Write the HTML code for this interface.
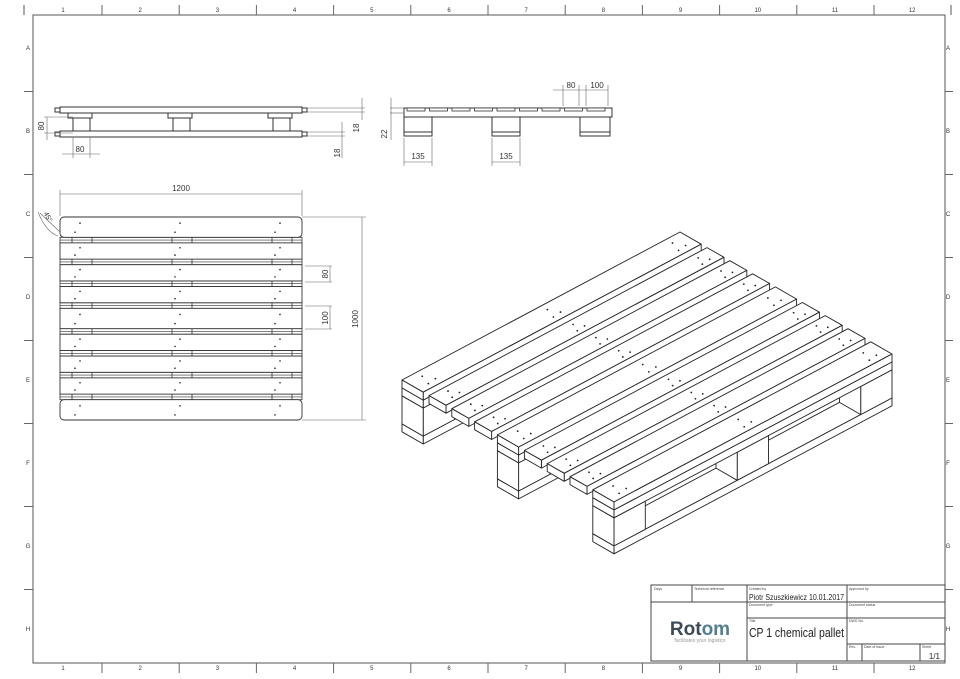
<!DOCTYPE html>
<html><head><meta charset="utf-8"><style>
html,body{margin:0;padding:0;background:#fff}
svg{display:block;font-family:"Liberation Sans",sans-serif}
</style></head><body>
<svg id="s" width="960" height="679" viewBox="0 0 960 679" xmlns="http://www.w3.org/2000/svg">
<g fill="none" stroke="#555" stroke-width="1">
<rect x="33" y="15" width="912" height="648"/>
<line x1="24" y1="5" x2="24" y2="15"/><line x1="951" y1="5" x2="951" y2="15"/>
</g>
<g id="frame" font-size="6" fill="#333" text-anchor="middle"></g>

<!-- side view 1 -->
<g fill="#fff" stroke="#333" stroke-width="1">
<rect x="60" y="107" width="242" height="6"/>
<rect x="55" y="108" width="5" height="4"/><rect x="302" y="108" width="5" height="4"/>
<rect x="68" y="113" width="24" height="5"/><rect x="168" y="113" width="24" height="5"/><rect x="268" y="113" width="24" height="5"/>
<rect x="73" y="118" width="17" height="13"/><rect x="173" y="118" width="17" height="13"/><rect x="273" y="118" width="17" height="13"/>
<rect x="60" y="131" width="242" height="6"/>
<rect x="55" y="132" width="5" height="4"/><rect x="302" y="132" width="5" height="4"/>
</g>
<g stroke="#666" stroke-width="0.6" fill="none">
<line x1="307" y1="108" x2="365" y2="108"/><line x1="307" y1="112" x2="365" y2="112"/>
<line x1="307" y1="132" x2="345" y2="132"/><line x1="307" y1="136" x2="345" y2="136"/>
<line x1="362" y1="98" x2="362" y2="120"/><line x1="342" y1="122" x2="342" y2="158"/>
<line x1="47" y1="117" x2="47" y2="140"/><line x1="44" y1="117" x2="73" y2="117"/><line x1="44" y1="133" x2="73" y2="133"/>
<line x1="73" y1="137" x2="73" y2="158"/><line x1="90" y1="137" x2="90" y2="158"/><line x1="62" y1="154" x2="100" y2="154"/>
</g>
<g font-size="8" fill="#333">
<text x="80" y="152" text-anchor="middle">80</text>
<text transform="translate(44,126) rotate(-90)" text-anchor="middle">80</text>
<text transform="translate(359,128) rotate(-90)" text-anchor="middle">18</text>
<text transform="translate(340,153) rotate(-90)" text-anchor="middle">18</text>
<text transform="translate(387,134) rotate(-90)" text-anchor="middle">22</text>
</g>

<!-- side view 2 -->
<g fill="#fff" stroke="#333" stroke-width="1">
<rect x="404" y="108" width="208" height="9"/>
<rect x="404" y="117" width="28" height="19"/><rect x="492" y="117" width="28" height="19"/><rect x="580" y="117" width="30" height="19"/>
<line x1="404" y1="132" x2="432" y2="132"/><line x1="492" y1="132" x2="520" y2="132"/><line x1="580" y1="132" x2="610" y2="132"/>
</g>
<g id="sv2" stroke="#333" stroke-width="0.8" fill="none"></g>
<g stroke="#666" stroke-width="0.6" fill="none">
<line x1="390" y1="108" x2="404" y2="108"/><line x1="390" y1="113" x2="404" y2="113"/><line x1="391" y1="98" x2="391" y2="140"/>
<line x1="404" y1="138" x2="404" y2="166"/><line x1="432" y1="138" x2="432" y2="166"/><line x1="404" y1="162" x2="432" y2="162"/>
<line x1="492" y1="138" x2="492" y2="166"/><line x1="520" y1="138" x2="520" y2="166"/><line x1="492" y1="162" x2="520" y2="162"/>
<line x1="563" y1="85" x2="563" y2="106"/><line x1="579" y1="85" x2="579" y2="106"/><line x1="586" y1="85" x2="586" y2="106"/><line x1="608" y1="85" x2="608" y2="106"/>
<line x1="553" y1="90" x2="608" y2="90"/>
</g>
<g font-size="8" fill="#333" text-anchor="middle">
<text x="418" y="159">135</text><text x="506" y="159">135</text>
<text x="571" y="88">80</text><text x="597" y="88">100</text>
</g>

<!-- plan view -->
<g id="plan"></g>
<g stroke="#666" stroke-width="0.6" fill="none">
<line x1="60" y1="190" x2="60" y2="216"/><line x1="302" y1="190" x2="302" y2="216"/><line x1="60" y1="194" x2="302" y2="194"/>
<line x1="302" y1="217" x2="366" y2="217"/><line x1="302" y1="420" x2="366" y2="420"/><line x1="362" y1="217" x2="362" y2="420"/>
<line x1="305" y1="266" x2="332" y2="266"/><line x1="305" y1="282" x2="332" y2="282"/><line x1="330" y1="266" x2="330" y2="282"/>
<line x1="305" y1="306" x2="332" y2="306"/><line x1="305" y1="329" x2="332" y2="329"/><line x1="330" y1="306" x2="330" y2="329"/>
<path d="M38 212 Q46 232 58 236"/><line x1="40" y1="213" x2="60" y2="232"/>
</g>
<g font-size="8" fill="#333" text-anchor="middle">
<text x="181" y="191">1200</text>
<text transform="translate(328,274) rotate(-90)">80</text>
<text transform="translate(328,318) rotate(-90)">100</text>
<text transform="translate(358,319) rotate(-90)">1000</text>
<text transform="translate(46,218) rotate(60)" font-size="7">45°</text>
</g>

<!-- iso -->
<g id="iso" stroke="#222" stroke-width="0.9" stroke-linejoin="round"></g>

<!-- title block -->
<g fill="none" stroke="#444" stroke-width="1">
<rect x="651" y="585" width="294" height="76"/>
<line x1="651" y1="602" x2="945" y2="602"/>
<line x1="692" y1="585" x2="692" y2="602"/>
<line x1="747" y1="585" x2="747" y2="661"/>
<line x1="847" y1="585" x2="847" y2="661"/>
<line x1="747" y1="618" x2="945" y2="618"/>
<line x1="847" y1="644" x2="945" y2="644"/>
<line x1="862" y1="644" x2="862" y2="661"/>
<line x1="920" y1="644" x2="920" y2="661"/>
</g>
<g font-size="3.5" fill="#444">
<text x="654" y="590">Days</text><text x="694" y="590">Technical reference</text>
<text x="749" y="590">Created by</text><text x="849" y="590">Approved by</text>
<text x="749" y="606">Document type</text><text x="849" y="606">Document status</text>
<text x="749" y="622">Title</text><text x="849" y="622">DWG No.</text>
<text x="849" y="648">Rev.</text><text x="864" y="648">Date of issue</text><text x="922" y="648">Sheet</text>
</g>
<text x="749" y="600" font-size="8" fill="#222" textLength="95" lengthAdjust="spacingAndGlyphs">Piotr Szuszkiewicz 10.01.2017</text>
<text x="749" y="637" font-size="12.5" fill="#222" textLength="95" lengthAdjust="spacingAndGlyphs">CP 1 chemical pallet</text>
<text x="940" y="659" font-size="8" fill="#222" text-anchor="end">1/1</text>
<text x="700" y="635" font-size="19" font-weight="bold" fill="#3d4a59" text-anchor="middle">Rot<tspan fill="#4f7f92">om</tspan></text>
<text x="700" y="642" font-size="5" fill="#999" text-anchor="middle">facilitates your logistics</text>
</svg>
<script>
const NS="http://www.w3.org/2000/svg";
function el(p,t,a,txt){const e=document.createElementNS(NS,t);for(const k in a)e.setAttribute(k,a[k]);if(txt)e.textContent=txt;p.appendChild(e);return e;}
const fr=document.getElementById('frame');
for(let k=0;k<12;k++){const cx=63+77.2*k;el(fr,'text',{x:cx,y:12},String(k+1));el(fr,'text',{x:cx,y:670},String(k+1));}
for(let k=0;k<11;k++){const x=102+77.2*k;el(fr,'line',{x1:x,y1:5,x2:x,y2:15,stroke:'#666'});el(fr,'line',{x1:x,y1:663,x2:x,y2:673,stroke:'#666'});}
const L="ABCDEFGH";
for(let k=0;k<8;k++){const cy=50+83*k;el(fr,'text',{x:28,y:cy},L[k]);el(fr,'text',{x:948,y:cy},L[k]);}
for(let k=0;k<7;k++){const y=91.5+83*k;el(fr,'line',{x1:24,y1:y,x2:33,y2:y,stroke:'#666'});el(fr,'line',{x1:945,y1:y,x2:953,y2:y,stroke:'#666'});}
const sv=document.getElementById('sv2');
for(let i=0;i<9;i++){const x=407+i*22.5;el(sv,'rect',{x:x,y:108,width:18,height:3,fill:'#fff'});}
const pl=document.getElementById('plan');
const pos=[[0,100],[127.5,80],[235,80],[342.5,80],[450,100],[577.5,80],[685,80],[792.5,80],[900,100]];
const sy=0.203,y0=217;
for(let i=0;i<8;i++){const a=y0+(pos[i][0]+pos[i][1])*sy,b=y0+pos[i+1][0]*sy;
 el(pl,'rect',{x:60,y:a,width:242,height:b-a,fill:'#fff',stroke:'#333','stroke-width':0.8});
 el(pl,'line',{x1:60,y1:(a+b)/2,x2:302,y2:(a+b)/2,stroke:'#333','stroke-width':0.6});
 for(const bx of [72,92,172,192,272,292])el(pl,'line',{x1:bx,y1:a,x2:bx,y2:b,stroke:'#333','stroke-width':0.8});}
pos.forEach((p,i)=>{const a=y0+p[0]*sy,h=p[1]*sy;
 el(pl,'rect',{x:60,y:a,width:242,height:h,rx:(i==0||i==8)?4:0,fill:'#fff',stroke:'#333','stroke-width':0.9});
 for(const bx of [75,175,275]){el(pl,'circle',{cx:bx+5,cy:a+h*0.3,r:0.8,fill:'#222'});el(pl,'circle',{cx:bx,cy:a+h*0.75,r:0.8,fill:'#222'});}});
const iso=document.getElementById('iso');
const O=[402,380],U=[278/1200,-148/1200],V=[212/1000,122/1000],Z=0.36;
function P(u,v,z){return [O[0]+U[0]*u+V[0]*v,O[1]+U[1]*u+V[1]*v-Z*z];}
function poly(pts,fill){el(iso,'polygon',{points:pts.map(p=>p[0].toFixed(1)+','+p[1].toFixed(1)).join(' '),fill:fill||'#fff'});}
function box(u0,u1,v0,v1,z0,z1){
 poly([P(u0,v0,z1),P(u1,v0,z1),P(u1,v1,z1),P(u0,v1,z1)]);
 poly([P(u0,v1,z0),P(u1,v1,z0),P(u1,v1,z1),P(u0,v1,z1)]);
 poly([P(u0,v0,z0),P(u0,v1,z0),P(u0,v1,z1),P(u0,v0,z1)]);}
const rows=[pos[0],pos[4],pos[8]];
const boxes=[];
rows.forEach(r=>{boxes.push([0,1200,r[0],r[0]+r[1],-144,-122,0]);
 for(const bu of [0,532,1065])boxes.push([bu,bu+135,r[0],r[0]+r[1],-122,-44,1]);
 boxes.push([0,1200,r[0],r[0]+r[1],-44,-22,2]);});
boxes.sort((a,b)=>a[6]-b[6]||a[2]-b[2]||b[0]-a[0]);
boxes.forEach(b=>box(b[0],b[1],b[2],b[3],b[4],b[5]));
pos.forEach(p=>{box(0,1200,p[0],p[0]+p[1],-22,0);
 for(const du of [60,600,1140]){const a=P(du,p[0]+p[1]*0.3,0),b=P(du+20,p[0]+p[1]*0.7,0),c=P(du-15,p[0]+p[1]*0.75,0);
  for(const q of [a,b,c])el(iso,'circle',{cx:q[0],cy:q[1],r:0.9,fill:'#222',stroke:'none'});}});
</script>
</body></html>
